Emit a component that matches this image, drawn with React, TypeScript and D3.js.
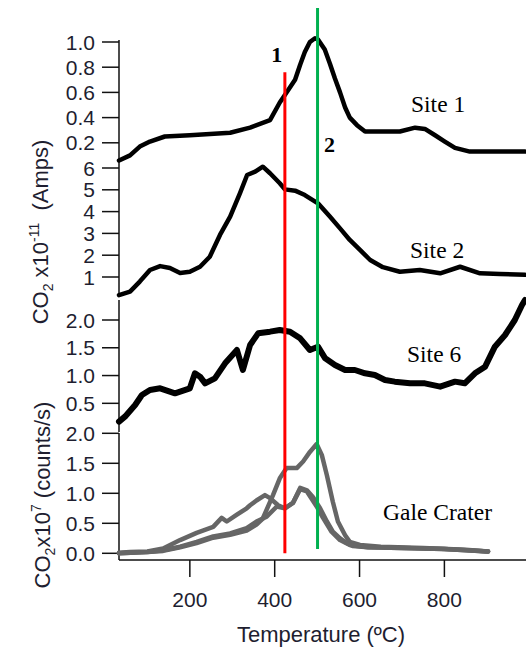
import * as d3 from "d3";

// temperatures (ºC) and signal
const site1Temp = [33, 59, 82, 106, 141, 200, 295, 342, 389, 412, 424, 448, 460, 471, 483, 495, 502, 518, 530, 542, 554, 566, 577, 594, 613, 648, 695, 731, 754, 778, 801, 825, 860, 907, 954, 990];
const site1Val = [0.06, 0.1, 0.17, 0.21, 0.25, 0.26, 0.28, 0.32, 0.38, 0.52, 0.58, 0.7, 0.82, 0.92, 1.0, 1.03, 1.02, 0.94, 0.83, 0.71, 0.6, 0.48, 0.4, 0.34, 0.29, 0.29, 0.29, 0.32, 0.31, 0.26, 0.21, 0.16, 0.13, 0.13, 0.13, 0.13];

const site2Temp = [33, 59, 82, 106, 130, 153, 177, 200, 224, 247, 271, 295, 318, 335, 354, 372, 389, 412, 424, 448, 471, 502, 530, 554, 577, 601, 625, 655, 695, 742, 790, 837, 884, 931, 990];
const site2Val = [0.17, 0.33, 0.79, 1.32, 1.5, 1.41, 1.18, 1.24, 1.47, 1.93, 2.93, 3.77, 4.84, 5.68, 5.83, 6.06, 5.76, 5.3, 5.02, 4.96, 4.76, 4.38, 3.77, 3.23, 2.7, 2.24, 1.78, 1.45, 1.24, 1.32, 1.17, 1.47, 1.17, 1.14, 1.1];

const site6Temp = [33, 47, 71, 87, 106, 130, 165, 200, 212, 224, 236, 259, 283, 311, 325, 342, 361, 389, 412, 436, 460, 483, 502, 519, 542, 566, 589, 613, 636, 660, 683, 719, 754, 790, 825, 848, 872, 896, 919, 943, 966, 983, 990];
const site6Val = [0.17, 0.26, 0.47, 0.65, 0.74, 0.77, 0.68, 0.77, 1.04, 0.98, 0.86, 0.95, 1.22, 1.46, 1.1, 1.55, 1.76, 1.79, 1.82, 1.79, 1.67, 1.46, 1.52, 1.31, 1.19, 1.1, 1.1, 1.04, 1.01, 0.92, 0.89, 0.86, 0.86, 0.8, 0.89, 0.86, 1.04, 1.16, 1.52, 1.73, 2.0, 2.27, 2.36];

const galeATemp = [33, 100, 137, 177, 216, 255, 295, 334, 357, 372, 396, 412, 428, 452, 467, 483, 499, 511, 523, 537, 549, 566, 577, 601, 650, 750, 850, 903];
const galeAVal = [0.0, 0.02, 0.04, 0.1, 0.17, 0.26, 0.31, 0.38, 0.48, 0.58, 0.97, 1.25, 1.42, 1.42, 1.53, 1.69, 1.82, 1.64, 1.3, 0.86, 0.53, 0.3, 0.19, 0.14, 0.11, 0.09, 0.06, 0.03];

const galeBTemp = [33, 59, 100, 137, 177, 216, 255, 275, 287, 310, 334, 342, 357, 377, 389, 408, 424, 443, 460, 476, 490, 507, 523, 537, 554, 570, 584, 620, 700, 800, 903];
const galeBVal = [0.01, 0.02, 0.03, 0.08, 0.22, 0.34, 0.44, 0.59, 0.53, 0.64, 0.75, 0.8, 0.88, 0.97, 0.92, 0.8, 0.75, 0.84, 1.09, 1.05, 0.94, 0.75, 0.53, 0.36, 0.25, 0.17, 0.12, 0.1, 0.09, 0.07, 0.03];

const galeCTemp = [33, 100, 137, 177, 216, 255, 295, 334, 357, 381, 405, 424, 443, 460, 476, 499, 514, 534, 554, 577, 620, 700, 800, 903];
const galeCVal = [0.0, 0.02, 0.05, 0.11, 0.19, 0.28, 0.33, 0.42, 0.53, 0.61, 0.78, 0.75, 0.84, 1.07, 1.03, 0.78, 0.59, 0.36, 0.22, 0.14, 0.1, 0.09, 0.07, 0.03];

const site1Ticks = [0.2, 0.4, 0.6, 0.8, 1.0];
const site2Ticks = [1, 2, 3, 4, 5, 6];
const site6Ticks = [0.5, 1.0, 1.5, 2.0];
const galeTicks = [0.0, 0.5, 1.0, 1.5, 2.0];
const tempTicks = [200, 400, 600, 800];

const redTemp = 424;
const greenTemp = 501;

const W = 526;
const H = 649;
const sans = "'Liberation Sans', Arial, sans-serif";
const serif = "'Liberation Serif', 'Times New Roman', serif";

const x = d3.scaleLinear().domain([33, 990]).range([119, 525]);

const y1 = d3.scaleLinear().domain([0, 1]).range([168, 42]);
const y2 = d3.scaleLinear().domain([0, 6]).range([298.8, 168]);
const y3 = d3.scaleLinear().domain([0, 2]).range([431.1, 320]);
const y4 = d3.scaleLinear().domain([0, 2]).range([553.3, 433.3]);

function pathFor(temps: number[], vals: number[], y: d3.ScaleLinear<number, number>) {
  const line = d3
    .line<number>()
    .x((_, i) => x(temps[i]))
    .y((v) => y(v));
  return line(vals) || "";
}

function YAxis({ y, ticks, top, bottom, fmt }: any) {
  return (
    <g>
      <line x1={119} x2={119} y1={top} y2={bottom} stroke="#111" strokeWidth={1.5} />
      {ticks.map((t: number) => (
        <g key={t}>
          <line x1={102} x2={119} y1={y(t)} y2={y(t)} stroke="#111" strokeWidth={1.5} />
          <text x={95} y={y(t)} dy="0.36em" textAnchor="end" fontSize={21} fontFamily={sans} fill="#1e1e30">
            {fmt(t)}
          </text>
        </g>
      ))}
    </g>
  );
}

export default function App() {
  const f1 = d3.format(".1f");
  const f0 = d3.format("d");
  return (
    <svg width={W} height={H} style={{ position: "absolute", left: 0, top: 0, background: "#fff" }}>
      <YAxis y={y1} ticks={site1Ticks} top={40} bottom={168} fmt={f1} />
      <YAxis y={y2} ticks={site2Ticks} top={168} bottom={297} fmt={f0} />
      <YAxis y={y3} ticks={site6Ticks} top={300} bottom={432} fmt={f1} />
      <YAxis y={y4} ticks={galeTicks} top={433} bottom={560} fmt={f1} />

      {/* x axis */}
      <line x1={119} x2={526} y1={560} y2={560} stroke="#111" strokeWidth={1.5} />
      {tempTicks.map((t) => (
        <g key={t}>
          <line x1={x(t)} x2={x(t)} y1={560} y2={577} stroke="#111" strokeWidth={1.5} />
          <text x={x(t)} y={607} textAnchor="middle" fontSize={21} fontFamily={sans} fill="#1e1e30">
            {t}
          </text>
        </g>
      ))}
      <text x={321} y={642} textAnchor="middle" fontSize={22} fontFamily={sans} fill="#1e1e30">
        Temperature (ºC)
      </text>

      {/* y titles */}
      <text transform="translate(48,232) rotate(-90)" textAnchor="middle" fontSize={22} fontFamily={sans} fill="#1e1e30" style={{ whiteSpace: "pre" }}>
        CO<tspan fontSize={14} dy={5}>2</tspan>
        <tspan dy={-5}>{" x10"}</tspan>
        <tspan fontSize={14} dy={-9}>-11</tspan>
        <tspan dy={9}>{"  (Amps)"}</tspan>
      </text>
      <text transform="translate(50,495) rotate(-90)" textAnchor="middle" fontSize={22} fontFamily={sans} fill="#1e1e30" style={{ whiteSpace: "pre" }}>
        CO<tspan fontSize={14} dy={5}>2</tspan>
        <tspan dy={-5}>x10</tspan>
        <tspan fontSize={14} dy={-9}>7</tspan>
        <tspan dy={9}>{" (counts/s)"}</tspan>
      </text>

      {/* traces */}
      <g fill="none" strokeLinejoin="round" strokeLinecap="round">
        <path d={pathFor(site1Temp, site1Val, y1)} stroke="#000" strokeWidth={4.5} />
        <path d={pathFor(site2Temp, site2Val, y2)} stroke="#000" strokeWidth={4.5} />
        <path d={pathFor(site6Temp, site6Val, y3)} stroke="#000" strokeWidth={6} />
        <path d={pathFor(galeATemp, galeAVal, y4)} stroke="#666" strokeWidth={4.5} />
        <path d={pathFor(galeBTemp, galeBVal, y4)} stroke="#666" strokeWidth={4.5} />
        <path d={pathFor(galeCTemp, galeCVal, y4)} stroke="#666" strokeWidth={4.5} />
      </g>

      {/* markers */}
      <line x1={x(redTemp)} x2={x(redTemp)} y1={y1(0.76)} y2={y4(0)} stroke="#ff0000" strokeWidth={3} />
      <line x1={x(greenTemp)} x2={x(greenTemp)} y1={y1(1.27)} y2={y4(0.07)} stroke="#00b04f" strokeWidth={3} />

      {/* labels */}
      <text x={276.7} y={61.7} textAnchor="middle" fontSize={22} fontWeight="bold" fontFamily={serif}>1</text>
      <text x={324} y={151.7} fontSize={22} fontWeight="bold" fontFamily={serif}>2</text>
      <text x={411} y={111.5} fontSize={23.5} fontFamily={serif}>Site 1</text>
      <text x={410} y={258} fontSize={23.5} fontFamily={serif}>Site 2</text>
      <text x={407} y={361.5} fontSize={23.5} fontFamily={serif}>Site 6</text>
      <text x={383} y={520} fontSize={23.5} fontFamily={serif}>Gale Crater</text>
    </svg>
  );
}
